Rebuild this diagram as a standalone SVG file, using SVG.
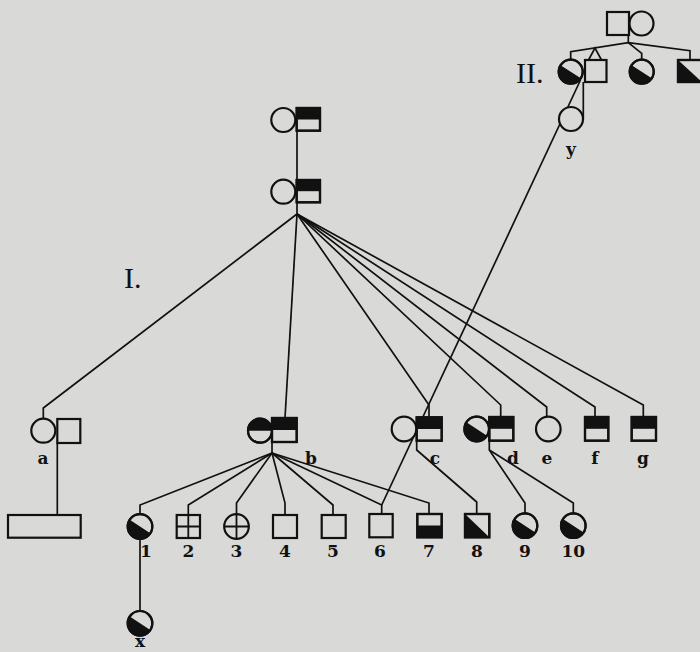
<svg xmlns="http://www.w3.org/2000/svg" width="700" height="652" viewBox="0 0 700 652">
<style>
.s{fill:#d9d9d7;stroke:#111;stroke-width:2.2}
.o{fill:none;stroke:#111;stroke-width:2.2}
.f{fill:#111;stroke:none}
.ln{fill:none;stroke:#111;stroke-width:1.7}
.x{fill:none;stroke:#111;stroke-width:1.8}
.lb{font-family:"DejaVu Serif","Liberation Serif",serif;font-weight:bold;font-size:17px;fill:#111;text-anchor:middle}
.rn{font-family:"Liberation Serif",serif;font-size:30px;fill:#111}
</style>
<rect width="700" height="652" fill="#d9d9d7"/>
<g id="connectors">
<polyline class="ln" points="628.3,35 628.3,42.7"/>
<polyline class="ln" points="570.7,60 570.7,51.7 628.3,42.7 690,50.7 690,60"/>
<polyline class="ln" points="628.3,42.7 641.7,53.3 641.7,60"/>
<polyline class="ln" points="588.5,60 595,48 601.5,60"/>
<polyline class="ln" points="583.3,82 583.3,119"/>
<polyline class="ln" points="580.5,80 381.7,505"/>
<polyline class="ln" points="297,131 297,180"/>
<polyline class="ln" points="297,202 297,214"/>
<polyline class="ln" points="297,214 43.3,408 43.3,418"/>
<polyline class="ln" points="297,214 285,418"/>
<polyline class="ln" points="297,214 429,405 429,417"/>
<polyline class="ln" points="297,214 500.7,405 500.7,417"/>
<polyline class="ln" points="297,214 546.7,407 546.7,417"/>
<polyline class="ln" points="297,214 595,407 595,417"/>
<polyline class="ln" points="297,214 643.3,405 643.3,417"/>
<polyline class="ln" points="57.3,443 57.3,515"/>
<polyline class="ln" points="272,442 272,453"/>
<polyline class="ln" points="272,453 140,505 140,514"/>
<polyline class="ln" points="272,453 188.3,505 188.3,515"/>
<polyline class="ln" points="272,453 236.5,503 236.5,514"/>
<polyline class="ln" points="272,453 285,503 285,515"/>
<polyline class="ln" points="272,453 333,505 333,515"/>
<polyline class="ln" points="272,453 381.7,505 381.7,514"/>
<polyline class="ln" points="272,453 429,503 429,514"/>
<polyline class="ln" points="416.7,440.7 416.7,450 476.7,502 476.7,514"/>
<polyline class="ln" points="489.3,440.7 489.3,450 525,503 525,513.4"/>
<polyline class="ln" points="489.3,450 573.3,503 573.3,513.4"/>
<polyline class="ln" points="140,539 140,611"/>
</g>
<text class="rn" x="516" y="83">II.</text>
<text class="rn" x="124" y="288">I.</text>
<g id="II-father"><rect class="s" x="607" y="12" width="22" height="23"/></g>
<g id="II-mother"><circle class="s" cx="641.5" cy="23.5" r="12"/></g>
<g id="II-daughter1"><circle class="s" cx="570.7" cy="71.7" r="12"/><path class="f" d="M560.6,65.2 A12,12 0 0 0 580.8,78.2 Z"/><circle class="o" cx="570.7" cy="71.7" r="12"/></g>
<g id="II-son"><rect class="s" x="585" y="60" width="21.5" height="22"/></g>
<g id="II-daughter2"><circle class="s" cx="641.7" cy="71.7" r="12"/><path class="f" d="M631.6,65.2 A12,12 0 0 0 651.8,78.2 Z"/><circle class="o" cx="641.7" cy="71.7" r="12"/></g>
<g id="II-son2"><rect class="s" x="678" y="60" width="24" height="22"/><path class="f" d="M678,60 L702,82 L678,82 Z"/><rect class="o" x="678" y="60" width="24" height="22"/></g>
<g id="y"><circle class="s" cx="571" cy="119" r="12"/><text class="lb" x="571" y="155" font-size="15">y</text></g>
<g id="I-top-couple"><circle class="s" cx="283.3" cy="120" r="12"/><rect class="s" x="296.7" y="108" width="23.3" height="22.7"/><rect class="f" x="296.7" y="108" width="23.3" height="11.5"/><rect class="o" x="296.7" y="108" width="23.3" height="22.7"/></g>
<g id="I-couple"><circle class="s" cx="283.3" cy="191.7" r="12"/><rect class="s" x="296.7" y="180" width="23.3" height="22.3"/><rect class="f" x="296.7" y="180" width="23.3" height="11.2"/><rect class="o" x="296.7" y="180" width="23.3" height="22.3"/></g>
<g id="a"><circle class="s" cx="43.3" cy="430.7" r="12"/><rect class="s" x="57.3" y="419" width="23" height="24"/><text class="lb" x="43" y="464">a</text></g>
<g id="a-child"><rect class="s" x="8" y="515" width="72.7" height="22.7"/></g>
<g id="b"><circle class="s" cx="260" cy="430.7" r="12"/><path class="f" d="M248,430.7 A12,12 0 0 1 272,430.7 Z"/><circle class="o" cx="260" cy="430.7" r="12"/><rect class="s" x="272" y="418" width="24.7" height="24"/><rect class="f" x="272" y="418" width="24.7" height="12"/><rect class="o" x="272" y="418" width="24.7" height="24"/><text class="lb" x="311" y="464">b</text></g>
<g id="c"><circle class="s" cx="404" cy="429" r="12.3"/><rect class="s" x="416.7" y="417.3" width="25" height="23.4"/><rect class="f" x="416.7" y="417.3" width="25" height="11.7"/><rect class="o" x="416.7" y="417.3" width="25" height="23.4"/><text class="lb" x="435" y="464">c</text></g>
<g id="d"><circle class="s" cx="476.7" cy="429" r="12.3"/><path class="f" d="M466.4,422.3 A12.3,12.3 0 0 0 487,435.7 Z"/><circle class="o" cx="476.7" cy="429" r="12.3"/><rect class="s" x="489.3" y="417" width="24" height="23.7"/><rect class="f" x="489.3" y="417" width="24" height="11.8"/><rect class="o" x="489.3" y="417" width="24" height="23.7"/><text class="lb" x="513" y="464">d</text></g>
<g id="e"><circle class="s" cx="548.3" cy="429" r="12.3"/><text class="lb" x="547" y="464">e</text></g>
<g id="f"><rect class="s" x="585" y="417" width="23.3" height="23.7"/><rect class="f" x="585" y="417" width="23.3" height="11.8"/><rect class="o" x="585" y="417" width="23.3" height="23.7"/><text class="lb" x="595" y="464">f</text></g>
<g id="g"><rect class="s" x="631.7" y="417" width="24.3" height="23.7"/><rect class="f" x="631.7" y="417" width="24.3" height="11.8"/><rect class="o" x="631.7" y="417" width="24.3" height="23.7"/><text class="lb" x="643" y="464">g</text></g>
<g id="n1"><circle class="s" cx="140" cy="526.5" r="12.3"/><path class="f" d="M129.7,519.8 A12.3,12.3 0 0 0 150.3,533.2 Z"/><circle class="o" cx="140" cy="526.5" r="12.3"/><text class="lb" x="146" y="557">1</text></g>
<g id="n2"><rect class="s" x="176.7" y="515" width="23.3" height="23"/><path class="x" d="M188.3,515 V538 M176.7,526.5 H200"/><text class="lb" x="188.3" y="557">2</text></g>
<g id="n3"><circle class="s" cx="236.5" cy="526.5" r="12.3"/><path class="x" d="M236.5,514.2 V538.8 M224.2,526.5 H248.8"/><text class="lb" x="236.5" y="557">3</text></g>
<g id="n4"><rect class="s" x="273" y="515" width="24" height="23"/><text class="lb" x="285" y="557">4</text></g>
<g id="n5"><rect class="s" x="321.7" y="515" width="24" height="23"/><text class="lb" x="333" y="557">5</text></g>
<g id="n6"><rect class="s" x="369.3" y="514" width="23.4" height="23.3"/><text class="lb" x="380" y="557">6</text></g>
<g id="n7"><rect class="s" x="417.3" y="514" width="24.4" height="23.3"/><rect class="f" x="417.3" y="525.5" width="24.4" height="11.8"/><rect class="o" x="417.3" y="514" width="24.4" height="23.3"/><text class="lb" x="429" y="557">7</text></g>
<g id="n8"><rect class="s" x="465" y="514" width="24.3" height="23.3"/><path class="f" d="M465,514 L489.3,537.3 L465,537.3 Z"/><rect class="o" x="465" y="514" width="24.3" height="23.3"/><text class="lb" x="477" y="557">8</text></g>
<g id="n9"><circle class="s" cx="525" cy="525.7" r="12.3"/><path class="f" d="M514.7,519 A12.3,12.3 0 0 0 535.3,532.4 Z"/><circle class="o" cx="525" cy="525.7" r="12.3"/><text class="lb" x="525" y="557">9</text></g>
<g id="n10"><circle class="s" cx="573.3" cy="525.7" r="12.3"/><path class="f" d="M563,519 A12.3,12.3 0 0 0 583.6,532.4 Z"/><circle class="o" cx="573.3" cy="525.7" r="12.3"/><text class="lb" x="573.3" y="557">10</text></g>
<g id="x"><circle class="s" cx="140" cy="623.3" r="12.3"/><path class="f" d="M129.7,616.6 A12.3,12.3 0 0 0 150.3,630 Z"/><circle class="o" cx="140" cy="623.3" r="12.3"/><text class="lb" x="140" y="647" font-size="13">x</text></g>
</svg>
